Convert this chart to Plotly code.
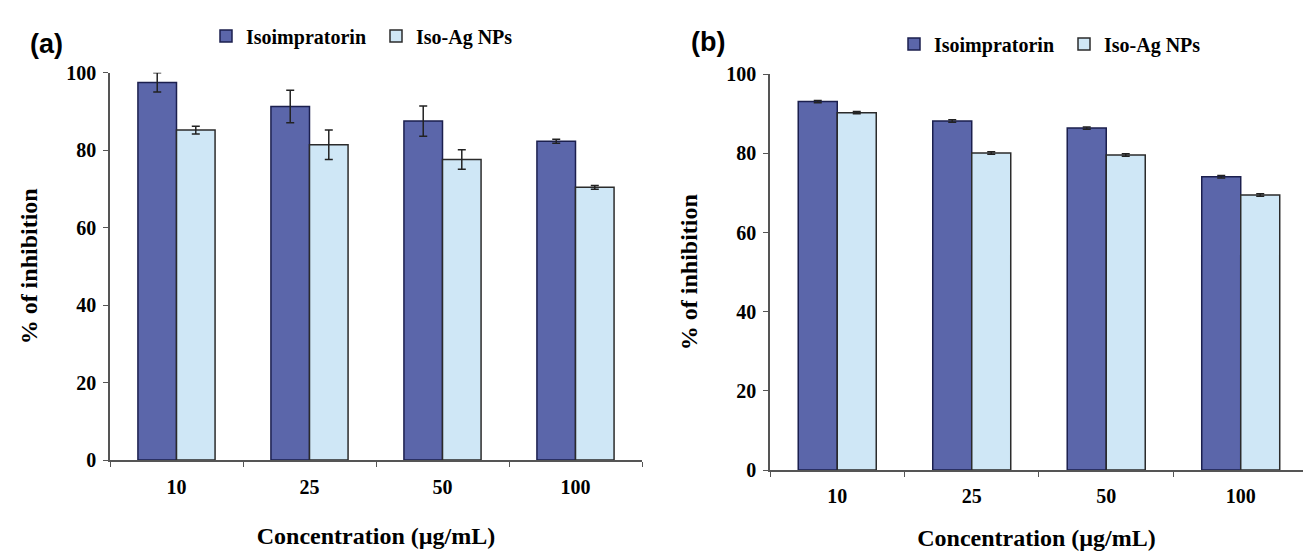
import plotly.graph_objects as go

categories = ["10", "25", "50", "100"]
series_names = ["Isoimpratorin", "Iso-Ag NPs"]

# Panel (a)
a_iso = [97.5, 91.3, 87.5, 82.3]
a_iso_err = [2.5, 4.2, 3.9, 0.5]
a_np = [85.2, 81.4, 77.6, 70.4]
a_np_err = [1.0, 3.8, 2.5, 0.5]

# Panel (b)
b_iso = [93.1, 88.2, 86.4, 74.1]
b_iso_err = [0.3, 0.3, 0.3, 0.3]
b_np = [90.3, 80.1, 79.6, 69.5]
b_np_err = [0.3, 0.3, 0.3, 0.3]

y_ticks = [0, 20, 40, 60, 80, 100]

W, H = 1303, 551
serif = "Liberation Serif"
iso_fill, iso_edge = "#5b66aa", "#1b1f4e"
np_fill, np_edge = "#cfe7f6", "#2b2b2b"

fig = go.Figure()

def add_bars(y_iso, e_iso, y_np, e_np, xa, ya, leg, show):
    fig.add_trace(go.Bar(
        x=categories, y=y_iso, name=series_names[0],
        marker=dict(color=iso_fill, line=dict(color=iso_edge, width=1.5)),
        error_y=dict(type="data", array=e_iso, color="#222", thickness=1.5, width=4),
        xaxis=xa, yaxis=ya, legend=leg, showlegend=show, cliponaxis=False))
    fig.add_trace(go.Bar(
        x=categories, y=y_np, name=series_names[1],
        marker=dict(color=np_fill, line=dict(color=np_edge, width=1.5)),
        error_y=dict(type="data", array=e_np, color="#222", thickness=1.5, width=4),
        xaxis=xa, yaxis=ya, legend=leg, showlegend=show, cliponaxis=False))

add_bars(a_iso, a_iso_err, a_np, a_np_err, "x", "y", "legend", True)
add_bars(b_iso, b_iso_err, b_np, b_np_err, "x2", "y2", "legend2", True)

def px_x(p):
    return p / W

def px_y(p):
    return 1 - p / H

axis_common = dict(showline=True, linecolor="#555", linewidth=1.5, ticks="outside",
                   ticklen=5, tickcolor="#555", showgrid=False, zeroline=False,
                   automargin=False,
                   tickfont=dict(family=serif, size=20, color="black", weight="bold"))
xt_font = dict(family=serif, size=24, color="black", weight="bold")
yt_font = dict(family=serif, size=24, color="black", weight="bold")
leg_font = dict(family=serif, size=20, color="black", weight="bold")
lbl_font = dict(family="Liberation Sans", size=27, color="black", weight="bold")

fig.update_layout(
    width=W, height=H, margin=dict(l=0, r=0, t=0, b=0, autoexpand=False),
    paper_bgcolor="white", plot_bgcolor="white",
    barmode="group", bargap=0.42, bargroupgap=0,
    xaxis=dict(domain=[px_x(110), px_x(642)], range=[-0.5, 3.5], tickson="boundaries",
               anchor="y", ticklabelstandoff=8,
               title=dict(text="Concentration (µg/mL)", font=xt_font, standoff=30),
               **axis_common),
    yaxis=dict(domain=[px_y(460), px_y(72.7)], range=[0, 100], tickvals=y_ticks,
               anchor="x", ticklabelstandoff=3,
               title=dict(text="% of inhibition", font=yt_font, standoff=22),
               **axis_common),
    xaxis2=dict(domain=[px_x(770), 1.0], range=[-0.5, 3.463], tickson="boundaries",
                anchor="y2", ticklabelstandoff=7,
                title=dict(text="Concentration (µg/mL)", font=xt_font, standoff=24),
                **axis_common),
    yaxis2=dict(domain=[px_y(470), px_y(74.3)], range=[0, 100], tickvals=y_ticks,
                anchor="x2", ticklabelstandoff=3,
                title=dict(text="% of inhibition", font=yt_font, standoff=22),
                **axis_common),
    legend=dict(orientation="h", x=px_x(206), xanchor="left", y=px_y(36), yanchor="middle",
                font=leg_font, bgcolor="rgba(0,0,0,0)", itemwidth=30, entrywidth=125),
    legend2=dict(orientation="h", x=px_x(894), xanchor="left", y=px_y(44), yanchor="middle",
                 font=leg_font, bgcolor="rgba(0,0,0,0)", itemwidth=30, entrywidth=125),
    annotations=[
        dict(text="(a)", x=px_x(28), y=px_y(27), xref="paper", yref="paper",
             showarrow=False, font=lbl_font),
        dict(text="(b)", x=px_x(708), y=px_y(25), xref="paper", yref="paper",
             showarrow=False, font=lbl_font),
    ],
)

fig.write_html("out.html",
               config={"displayModeBar": False},
               post_script="document.body.style.margin='0';document.body.style.padding='0';")
